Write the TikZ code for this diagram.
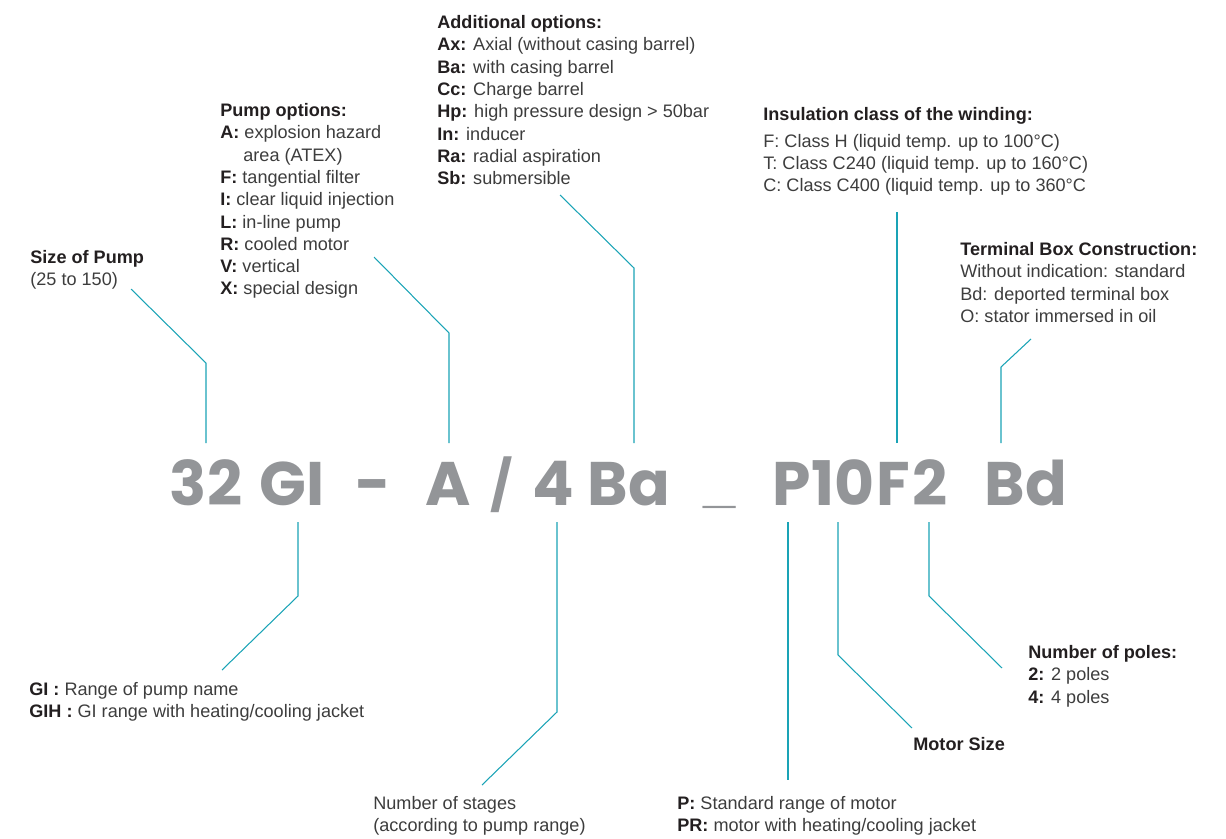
\documentclass[tikz,border=0pt]{standalone}
\usepackage{fontspec}
\setmainfont{Liberation Sans}
\newfontfamily\codefont{Poppins}
\definecolor{leadcol}{HTML}{1AA3B6}
\definecolor{codegray}{HTML}{939598}
\definecolor{txtgray}{HTML}{3D3D3D}
\definecolor{txtdark}{HTML}{231F20}
\newcommand{\key}[1]{\textbf{\color{txtdark}#1}}
\begin{document}
\begin{tikzpicture}[x=0.02cm,y=-0.02cm,
  lbl/.style={anchor=north west,inner sep=0pt,align=left,text=txtgray,
    font=\fontsize{10.3}{12.7}\selectfont},
  code/.style={anchor=base,inner sep=0pt,text=codegray,
    font=\codefont\bfseries\fontsize{35}{35}\selectfont},
  glyph/.style={code,font=\rmfamily\bfseries\fontsize{33}{33}\selectfont},
  lead/.style={draw=leadcol,line width=0.6pt}]
\useasboundingbox (0,0) rectangle (1226,838);
% type code
\node[code] (c32) at (206,505) {32};
\node[code] (cGI) at (292,505) {GI};
\node[code] (cdash) at (373,505) {-};
\node[code] (cA) at (448,505) {A};
\node[code,font=\codefont\bfseries\fontsize{28}{28}\selectfont] (cslash) at (502,505) {\raisebox{0.04cm}{/}};
\node[code] (c4) at (553,505) {4};
\node[code] (cBa) at (629,505) {Ba};
\node[glyph] (cus) at (720,505) {\raisebox{0.08cm}{\_}};
\node[code] (cP) at (792,505) {P};
\node[code] (c10) at (843,505) {10};
\node[code] (cF) at (893,505) {F};
\node[code] (c2) at (930,505) {2};
\node[code] (cBd) at (1026,505) {Bd};
% labels above
\node[lbl] (sizelbl) at (30,250) {\key{Size of Pump}\\(25 to 150)};
\node[lbl] (pumpopt) at (220,103) {\key{Pump options:}\\
  \key{A:} explosion hazard\\\hspace*{0.46cm}area (ATEX)\\
  \key{F:} tangential filter\\\key{I:} clear liquid injection\\
  \key{L:} in-line pump\\\key{R:} cooled motor\\
  \key{V:} vertical\\\key{X:} special design};
\node[lbl] (addopt) at (437,15) {\key{Additional options:}\\
  \key{Ax:} Axial (without casing barrel)\\\key{Ba:} with casing barrel\\
  \key{Cc:} Charge barrel\\\key{Hp:} high pressure design > 50bar\\
  \key{In:} inducer\\\key{Ra:} radial aspiration\\\key{Sb:} submersible};
\node[lbl] (insul) at (763,107) {\key{Insulation class of the winding:}\\[2.5pt]
  F: Class H (liquid temp. up to 100°C)\\
  T: Class C240 (liquid temp. up to 160°C)\\
  C: Class C400 (liquid temp. up to 360°C};
\node[lbl] (termbox) at (960,242) {\key{Terminal Box Construction:}\\
  Without indication: standard\\Bd: deported terminal box\\
  O: stator immersed in oil};
% labels below
\node[lbl] (gilbl) at (29,682) {\key{GI :} Range of pump name\\
  \key{GIH :} GI range with heating/cooling jacket};
\node[lbl] (stages) at (373,796) {Number of stages\\(according to pump range)};
\node[lbl] (motorlbl) at (677,796) {\key{P:} Standard range of motor\\
  \key{PR:} motor with heating/cooling jacket};
\node[lbl] (motsize) at (913,737) {\key{Motor Size}};
\node[lbl] (poles) at (1028,645) {\key{Number of poles:}\\
  \key{2:} 2 poles\\\key{4:} 4 poles};
% leader lines
\draw[lead] (c32.base) ++(0,-62) -- ++(0,-80) -- ++(-75,-74);
\draw[lead] (cA.base) ++(1,-62) -- ++(0,-110) -- ++(-75,-76);
\draw[lead] (cBa.base) ++(5,-62) -- ++(0,-175) -- ++(-74,-73);
\draw[lead] (cF.base) ++(4,-62) -- ++(0,-231);
\draw[lead] (cBd.base) ++(-25,-62) -- ++(0,-76) -- ++(30,-28);
\draw[lead] (cGI.base) ++(6,17) -- ++(0,74) -- ++(-76,74);
\draw[lead] (c4.base) ++(4,17) -- ++(0,190) -- ++(-75,73);
\draw[lead] (cP.base) ++(-4,17) -- ++(0,258);
\draw[lead] (c10.base) ++(-5,17) -- ++(0,133) -- ++(74,73);
\draw[lead] (c2.base) ++(-1,17) -- ++(0,74) -- ++(73,72);
\end{tikzpicture}
\end{document}
